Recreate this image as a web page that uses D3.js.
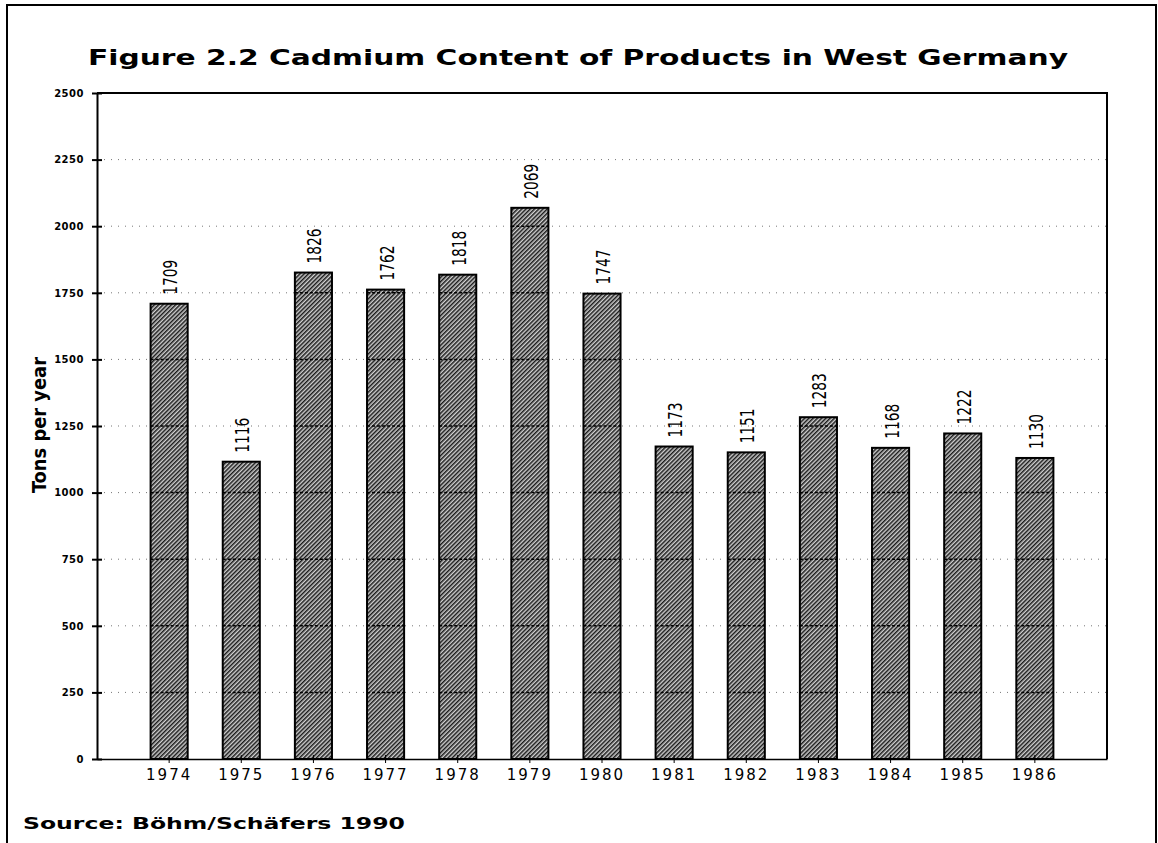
<!DOCTYPE html>
<html>
<head>
<meta charset="utf-8">
<script src="https://cdn.jsdelivr.net/npm/d3@7"></script>
<style>
  body { margin: 0; background: #fff; }
  svg { display: block; }
</style>
</head>
<body>
<div id="chart"></div>
<script>
// data
var years = ["1974", "1975", "1976", "1977", "1978", "1979", "1980",
             "1981", "1982", "1983", "1984", "1985", "1986"];
var tons = [1709, 1116, 1826, 1762, 1818, 2069, 1747,
            1173, 1151, 1283, 1168, 1222, 1130];
var yTicks = [0, 250, 500, 750, 1000, 1250, 1500, 1750, 2000, 2250, 2500];

var W = 1158, H = 843;
var plotLeft = 97, plotRight = 1107, plotTop = 93, plotBottom = 759;

var svg = d3.select("#chart").append("svg")
    .attr("width", W)
    .attr("height", H);

// hatch pattern for the bars
var defs = svg.append("defs");
var pat = defs.append("pattern")
    .attr("id", "hatch")
    .attr("patternUnits", "userSpaceOnUse")
    .attr("width", 3)
    .attr("height", 3)
    .attr("patternTransform", "rotate(45)");
pat.append("rect").attr("width", 3).attr("height", 3).attr("fill", "#cfcfcf");
pat.append("line")
    .attr("x1", 0.75).attr("y1", 0).attr("x2", 0.75).attr("y2", 3)
    .attr("stroke", "#1a1a1a").attr("stroke-width", 1.5);

// outer frame
svg.append("path")
    .attr("d", "M7,843 V5 H1156 V843")
    .attr("fill", "none")
    .attr("stroke", "#000")
    .attr("stroke-width", 2);

// title
svg.append("text")
    .attr("x", 88)
    .attr("y", 65)
    .attr("textLength", 980)
    .attr("lengthAdjust", "spacingAndGlyphs")
    .style("font-family", "'DejaVu Sans', sans-serif")
    .style("font-weight", "bold")
    .style("font-size", "21px")
    .text("Figure 2.2 Cadmium Content of Products in West Germany");

var x = d3.scaleBand()
    .domain(years)
    .range([plotLeft, plotRight])
    .paddingInner(0.486)
    .paddingOuter(0.743);

var y = d3.scaleLinear()
    .domain([0, 2500])
    .range([plotBottom, plotTop]);

// faint dotted grid lines behind the bars
svg.append("g").selectAll("line")
    .data(yTicks.slice(1, -1))
    .enter()
    .append("line")
    .attr("x1", plotLeft)
    .attr("x2", plotRight)
    .attr("y1", function(d) { return y(d); })
    .attr("y2", function(d) { return y(d); })
    .attr("stroke", "#777")
    .attr("stroke-width", 1)
    .attr("stroke-dasharray", "1,6");

// bars
svg.append("g").selectAll("rect")
    .data(years)
    .enter()
    .append("rect")
    .attr("x", function(d) { return x(d); })
    .attr("y", function(d, i) { return y(tons[i]); })
    .attr("width", x.bandwidth())
    .attr("height", function(d, i) { return y(0) - y(tons[i]); })
    .attr("fill", "url(#hatch)")
    .attr("stroke", "#000")
    .attr("stroke-width", 2);

// grid lines show darker across the bars
svg.append("g").selectAll("g")
    .data(years)
    .enter()
    .append("g")
    .each(function(d, i) {
        d3.select(this).selectAll("line")
            .data(yTicks.filter(function(t) { return t > 0 && t < tons[i]; }))
            .enter()
            .append("line")
            .attr("x1", x(d))
            .attr("x2", x(d) + x.bandwidth())
            .attr("y1", function(t) { return y(t); })
            .attr("y2", function(t) { return y(t); })
            .attr("stroke", "#000")
            .attr("stroke-width", 1.5)
            .attr("stroke-dasharray", "3,2");
    });

// value labels, rotated
svg.append("g").selectAll("text")
    .data(years)
    .enter()
    .append("text")
    .attr("transform", function(d, i) {
        return "translate(" + (x(d) + x.bandwidth() / 2 + 8) + "," + (y(tons[i]) - 9) + ") rotate(-90)";
    })
    .attr("textLength", 35)
    .attr("lengthAdjust", "spacingAndGlyphs")
    .style("font-family", "'Liberation Sans Narrow', 'DejaVu Sans Condensed', sans-serif")
    .style("font-size", "19px")
    .text(function(d, i) { return tons[i]; });

// plot box top and right
svg.append("path")
    .attr("d", "M" + plotLeft + "," + plotTop + " H" + plotRight + " V" + plotBottom)
    .attr("fill", "none")
    .attr("stroke", "#000")
    .attr("stroke-width", 2);

// x axis
var xAxis = d3.axisBottom(x).tickSizeOuter(0).tickSizeInner(4).tickPadding(14);
var gx = svg.append("g")
    .attr("transform", "translate(0," + plotBottom + ")")
    .call(xAxis);
gx.select(".domain").attr("stroke-width", 1.5);
gx.selectAll(".tick line").attr("y1", -4).attr("y2", 4);
gx.selectAll(".tick text")
    .style("font-family", "'DejaVu Sans', sans-serif")
    .style("font-size", "15px")
    .style("letter-spacing", "2px")
    .attr("dy", "0.2em");

// y axis
var yAxis = d3.axisLeft(y)
    .tickValues(yTicks)
    .tickFormat(d3.format("d"))
    .tickSizeOuter(0)
    .tickSizeInner(5)
    .tickPadding(8);
var gy = svg.append("g")
    .attr("transform", "translate(" + plotLeft + ",0)")
    .call(yAxis);
gy.select(".domain").attr("stroke-width", 2);
gy.selectAll(".tick line").attr("x1", -5).attr("x2", 5).attr("stroke-width", 2);
gy.selectAll(".tick text")
    .style("font-family", "'DejaVu Sans', sans-serif")
    .style("font-weight", "bold")
    .style("font-size", "10px")
    .style("letter-spacing", "0.5px");

// y axis title
svg.append("text")
    .attr("transform", "translate(46,493) rotate(-90)")
    .attr("textLength", 136)
    .attr("lengthAdjust", "spacingAndGlyphs")
    .style("font-family", "'Liberation Sans Narrow', 'DejaVu Sans Condensed', sans-serif")
    .style("font-weight", "bold")
    .style("font-size", "20px")
    .text("Tons per year");

// source note
svg.append("text")
    .attr("x", 23)
    .attr("y", 829)
    .attr("textLength", 382)
    .attr("lengthAdjust", "spacingAndGlyphs")
    .style("font-family", "'DejaVu Sans', sans-serif")
    .style("font-weight", "bold")
    .style("font-size", "15px")
    .text("Source: Böhm/Schäfers 1990");
</script>
</body>
</html>
